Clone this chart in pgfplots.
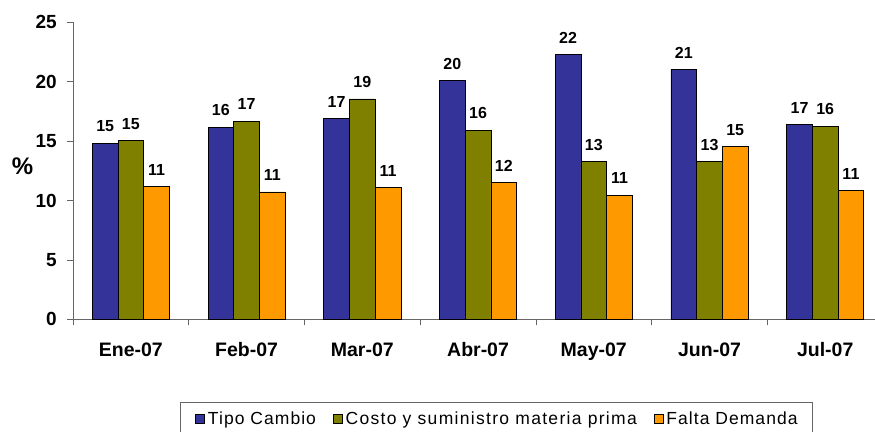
\documentclass[border=0pt]{standalone}
\usepackage{fontspec}
\setmainfont{Liberation Sans}
\newfontfamily\legfont[LetterSpace=6]{Liberation Sans}
\newfontfamily\legfontb[LetterSpace=7.5]{Liberation Sans}
\usepackage{pgfplots}
\pgfplotsset{compat=1.18}
\usepackage{pgfplotstable}
\definecolor{cblue}{HTML}{333399}
\definecolor{colive}{HTML}{808000}
\definecolor{corange}{HTML}{FF9900}
\definecolor{axgray}{HTML}{666666}
\pgfplotstableread{
x tc cs fd ltc lcs lfd
0 14.81 15.03 11.16 15 15 11
1 16.16 16.67 10.72 16 17 11
2 16.90 18.55 11.11 17 19 11
3 20.08 15.91 11.50 20 16 12
4 22.27 13.27 10.44 22 13 11
5 21.04 13.27 14.53 21 13 15
6 16.41 16.27 10.83 17 16 11
}\data
\begin{document}
\begin{tikzpicture}
\begin{axis}[
  scale only axis, width=802pt, height=297pt,
  xmin=-0.5, xmax=6.43, ymin=0, ymax=25,
  axis x line=bottom, axis y line=left,
  axis line style={draw=axgray, line width=0.8pt, -},
  ybar=0pt, bar width=25.7pt,
  xtick={0,...,6},
  xticklabels={Ene-07,Feb-07,Mar-07,Abr-07,May-07,Jun-07,Jul-07},
  major x tick style={draw=none},
  minor xtick={-0.5,0.5,...,6.5},
  ytick={0,5,...,25},
  tick align=outside,
  major tick length=6pt, minor tick length=6pt,
  tick style={draw=axgray, line width=0.8pt},
  /pgf/number format/assume math mode=true,
  yticklabel style={font=\fontsize{19}{22}\selectfont\bfseries, inner sep=0pt, xshift=-10pt},
  xticklabel style={font=\fontsize{19.5}{22}\selectfont\bfseries, yshift=-14pt},
  ylabel={\%},
  every axis y label/.style={at={(axis description cs:0,0.515)}, anchor=center, xshift=-50.5pt, rotate=0, font=\fontsize{24}{28}\selectfont\bfseries},
  point meta=explicit symbolic,
  nodes near coords,
  every node near coord/.append style={font=\fontsize{16}{18}\selectfont\bfseries, anchor=south, inner sep=0pt, yshift=11pt},
  legend style={at={(axis description cs:0.1334,-0.2785)}, anchor=north west,
    draw=axgray, line width=0.8pt, font=\fontsize{17.5}{20}\selectfont\legfont, legend columns=-1,
    inner xsep=15pt, inner ysep=7pt,
    nodes={inner xsep=0pt},
    /tikz/every odd column/.append style={column sep=3pt},
    /tikz/every even column/.append style={column sep=17pt}},
  legend image code/.code={\draw[#1,draw=black,line width=0.6pt] (0pt,-4.5pt) rectangle (9pt,4.5pt);},
]
\addplot[fill=cblue, draw=black, line width=0.6pt] table[x=x, y=tc, meta=ltc] {\data};
\addplot[fill=colive, draw=black, line width=0.6pt] table[x=x, y=cs, meta=lcs] {\data};
\addplot[fill=corange, draw=black, line width=0.6pt] table[x=x, y=fd, meta=lfd] {\data};
\legend{Tipo Cambio,{\legfontb Costo y suministro materia prima},Falta Demanda}
\end{axis}
\pgfresetboundingbox
\useasboundingbox (-73pt,-111.7pt) rectangle (802pt,319.3pt);
\end{tikzpicture}
\end{document}
